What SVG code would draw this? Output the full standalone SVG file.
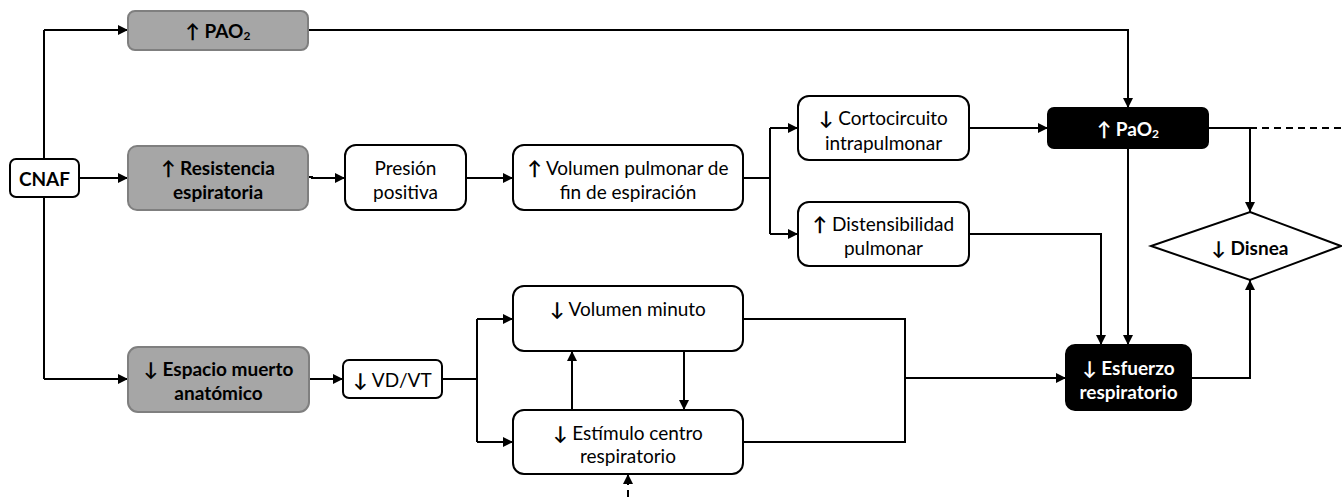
<svg xmlns="http://www.w3.org/2000/svg" width="1342" height="497" viewBox="0 0 1342 497">
<style>
text{font-family:Lato,"Liberation Sans",sans-serif;font-size:19px;text-anchor:middle;dominant-baseline:central;fill:#000}
.b{font-weight:bold}
.a{font-weight:bold}
.w{fill:#fff}
.box{fill:#fff;stroke:#000;stroke-width:2}
.gray{fill:#a6a6a6;stroke:#7f7f7f;stroke-width:2}
.blk{fill:#000;stroke:#000;stroke-width:2}
.c{fill:none;stroke:#000;stroke-width:2}
.d{fill:none;stroke:#000;stroke-width:2;stroke-dasharray:7 5}
</style>
<defs>
<marker id="ah" viewBox="0 0 10 10" refX="10" refY="5" markerWidth="10" markerHeight="10" markerUnits="userSpaceOnUse" orient="auto">
<path d="M0,0 L10,5 L0,10 z" fill="#000"/>
</marker>
</defs>
<g id="connectors">
<path class="c" d="M44,30 V379" />
<path class="c" d="M44,30 H128" marker-end="url(#ah)"/>
<path class="c" d="M79,178 H128" marker-end="url(#ah)"/>
<path class="c" d="M44,379 H128" marker-end="url(#ah)"/>
<path class="c" d="M308,30 H1128 V108" marker-end="url(#ah)"/>
<path class="c" d="M308,177 H312 V178 H345" marker-end="url(#ah)"/>
<path class="c" d="M466,178 H513" marker-end="url(#ah)"/>
<path class="c" d="M743,178 H770" />
<path class="c" d="M770,128 V234" />
<path class="c" d="M770,128 H798" marker-end="url(#ah)"/>
<path class="c" d="M770,234 H798" marker-end="url(#ah)"/>
<path class="c" d="M969,128 H1048" marker-end="url(#ah)"/>
<path class="c" d="M1208,128 H1250" />
<path class="d" d="M1250,128 H1342" />
<path class="c" d="M1250,128 V212" marker-end="url(#ah)"/>
<path class="c" d="M969,234 H1101 V345" marker-end="url(#ah)"/>
<path class="c" d="M1128,148 V345" marker-end="url(#ah)"/>
<path class="c" d="M1191,378 H1250 V280" marker-end="url(#ah)"/>
<path class="c" d="M309,379 H343" marker-end="url(#ah)"/>
<path class="c" d="M442,379 H477" />
<path class="c" d="M477,319 V442" />
<path class="c" d="M477,319 H513" marker-end="url(#ah)"/>
<path class="c" d="M477,442 H513" marker-end="url(#ah)"/>
<path class="c" d="M572,410 V351" marker-end="url(#ah)"/>
<path class="c" d="M684,351 V410" marker-end="url(#ah)"/>
<path class="c" d="M743,319 H905 V442 H743" />
<path class="c" d="M905,378 H1066" marker-end="url(#ah)"/>
<path class="d" d="M628,497 V474" />
<path class="c" d="M628,480 V474" marker-end="url(#ah)"/>
</g>
<g id="n-cnaf"><rect class="box" x="10" y="159" width="69" height="38" rx="6"/><text class="b" x="44.5" y="178">CNAF</text></g>
<g id="n-pao2a"><rect class="gray" x="128" y="11" width="180" height="39" rx="7"/><text class="b" x="218" y="30">↑ PAO<tspan font-size="12" dy="5">2</tspan></text></g>
<g id="n-resist"><rect class="gray" x="128" y="146" width="180" height="64" rx="9"/><text class="b" x="218" y="167">↑ Resistencia</text><text class="b" x="218" y="191">espiratoria</text></g>
<g id="n-presion"><rect class="box" x="345" y="145" width="121" height="65" rx="11"/><text x="405.5" y="167">Presión</text><text x="405.5" y="191">positiva</text></g>
<g id="n-volpulm"><rect class="box" x="513" y="145" width="230" height="65" rx="11"/><text x="628" y="167"><tspan class="a">↑</tspan> Volumen pulmonar de</text><text x="628" y="191">fin de espiración</text></g>
<g id="n-corto"><rect class="box" x="798" y="96" width="171" height="64" rx="11"/><text x="883.5" y="117"><tspan class="a">↓</tspan> Cortocircuito</text><text x="883.5" y="142">intrapulmonar</text></g>
<g id="n-disten"><rect class="box" x="798" y="202" width="171" height="64" rx="11"/><text x="883.5" y="223"><tspan class="a">↑</tspan> Distensibilidad</text><text x="883.5" y="247">pulmonar</text></g>
<g id="n-pao2b"><rect class="blk" x="1048" y="108" width="160" height="40" rx="6"/><text class="b w" x="1128" y="128">↑ PaO<tspan font-size="12" dy="5">2</tspan></text></g>
<g id="n-disnea"><polygon class="box" points="1250,212 1341,246 1250,280 1151,246"/><text class="b" x="1250" y="247">↓ Disnea</text></g>
<g id="n-espacio"><rect class="gray" x="128" y="347" width="181" height="65" rx="10"/><text class="b" x="218.5" y="368">↓ Espacio muerto</text><text class="b" x="218.5" y="392">anatómico</text></g>
<g id="n-vdvt"><rect class="box" x="343" y="360" width="99" height="38" rx="6"/><text x="392.5" y="379"><tspan class="a">↓</tspan> VD/VT</text></g>
<g id="n-volmin"><rect class="box" x="513" y="286" width="230" height="65" rx="11"/><text x="628" y="308"><tspan class="a">↓</tspan> Volumen minuto</text></g>
<g id="n-estimulo"><rect class="box" x="513" y="410" width="230" height="64" rx="11"/><text x="628" y="432"><tspan class="a">↓</tspan> Estímulo centro</text><text x="628" y="455">respiratorio</text></g>
<g id="n-esfuerzo"><rect class="blk" x="1066" y="345" width="125" height="65" rx="9"/><text class="b w" x="1128.5" y="367">↓ Esfuerzo</text><text class="b w" x="1128.5" y="391">respiratorio</text></g>
</svg>
